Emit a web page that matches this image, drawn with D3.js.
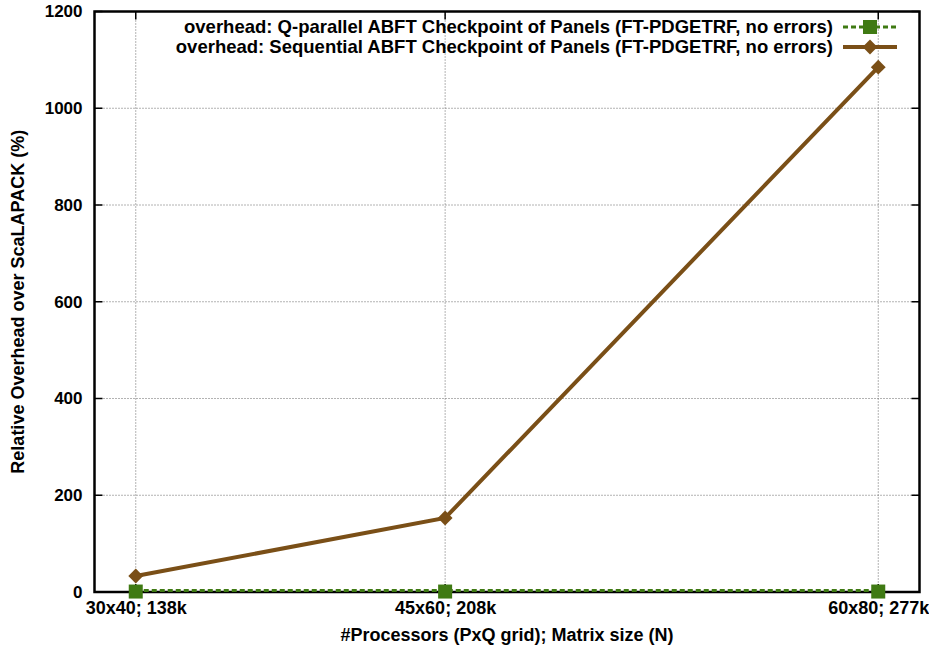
<!DOCTYPE html>
<html><head><meta charset="utf-8">
<script src="https://cdn.jsdelivr.net/npm/d3@7"></script>
<style>
body{margin:0;background:#fff;}
text{font-family:"Liberation Sans",Arial,sans-serif;font-weight:bold;}
</style></head>
<body><svg id="c" width="929" height="652"></svg>
<script>
const procs = [1200, 2700, 4800];
const tickLabels = ["30x40; 138k", "45x60; 208k", "60x80; 277k"];
const qParallel = [3, 3, 3];
const sequential = [33, 153, 1085];
const yTicks = [0, 200, 400, 600, 800, 1000, 1200];
const seriesNames = [
  "overhead: Q-parallel ABFT Checkpoint of Panels (FT-PDGETRF, no errors)",
  "overhead: Sequential ABFT Checkpoint of Panels (FT-PDGETRF, no errors)"
];

const svg = d3.select("#c");
const L = 94.5, R = 919.5, T = 11.5, B = 592;
const x = d3.scaleLinear().domain([1000, 5000]).range([L, R]);
const y = d3.scaleLinear().domain([0, 1200]).range([B, T]);

// grid
const g = svg.append("g");
g.selectAll(".gx").data(procs).enter().append("line")
  .attr("x1", d => x(d)).attr("x2", d => x(d)).attr("y1", T).attr("y2", B)
  .attr("stroke", "#666").attr("stroke-width", 1).attr("stroke-dasharray", "1,2");
g.selectAll(".gy").data(yTicks.slice(1, -1)).enter().append("line")
  .attr("x1", L).attr("x2", R).attr("y1", d => y(d)).attr("y2", d => y(d))
  .attr("stroke", "#666").attr("stroke-width", 1).attr("stroke-dasharray", "1,2");

// axes
const fs = "18px";
const ax = svg.append("g").attr("transform", `translate(0,${B})`)
  .call(d3.axisBottom(x).tickValues(procs).tickFormat((d, i) => tickLabels[i]).tickSize(0).tickPadding(9));
ax.select(".domain").remove();
ax.selectAll("text").attr("font-size", fs).attr("fill", "#000");
const ay = svg.append("g").attr("transform", `translate(${L},0)`)
  .call(d3.axisLeft(y).tickValues(yTicks).tickFormat(d3.format("d")).tickSize(0).tickPadding(12));
ay.select(".domain").remove();
ay.selectAll("text").attr("font-size", "17px").attr("fill", "#000");

// tick marks inward on all sides
yTicks.forEach(v => {
  svg.append("line").attr("x1", L).attr("x2", L + 8).attr("y1", y(v)).attr("y2", y(v)).attr("stroke", "#000").attr("stroke-width", 1.5);
  svg.append("line").attr("x1", R - 8).attr("x2", R).attr("y1", y(v)).attr("y2", y(v)).attr("stroke", "#000").attr("stroke-width", 1.5);
});
procs.forEach(v => {
  svg.append("line").attr("x1", x(v)).attr("x2", x(v)).attr("y1", B).attr("y2", B - 8).attr("stroke", "#000").attr("stroke-width", 1.5);
  svg.append("line").attr("x1", x(v)).attr("x2", x(v)).attr("y1", T).attr("y2", T + 8).attr("stroke", "#000").attr("stroke-width", 1.5);
});

// frame
svg.append("rect").attr("x", L).attr("y", T).attr("width", R - L).attr("height", B - T)
  .attr("fill", "none").attr("stroke", "#000").attr("stroke-width", 2.5);

const green = "#3f7a13", brown = "#7a4f17";
const line = d3.line().x((d, i) => x(procs[i])).y(d => y(d));

// sequential
svg.append("path").datum(sequential).attr("d", line).attr("fill", "none")
  .attr("stroke", brown).attr("stroke-width", 4);
svg.selectAll(".dm").data(sequential).enter().append("path")
  .attr("d", d3.symbol().type(d3.symbolSquare).size(110))
  .attr("transform", (d, i) => `translate(${x(procs[i])},${y(d)}) rotate(45)`)
  .attr("fill", brown);

// q-parallel
svg.append("path").datum(qParallel).attr("d", line).attr("fill", "none")
  .attr("stroke", green).attr("stroke-width", 3).attr("stroke-dasharray", "5,3");
svg.selectAll(".sq").data(qParallel).enter().append("rect")
  .attr("x", (d, i) => x(procs[i]) - 7).attr("y", d => y(d) - 6)
  .attr("width", 14).attr("height", 14).attr("fill", green);

// legend
const lx = 833, ly = [27, 47];
seriesNames.forEach((s, i) => {
  svg.append("text").attr("x", lx).attr("y", ly[i]).attr("dy", "0.35em")
    .attr("text-anchor", "end").attr("font-size", "18.5px").text(s);
});
svg.append("line").attr("x1", 843).attr("x2", 897).attr("y1", ly[0]).attr("y2", ly[0])
  .attr("stroke", green).attr("stroke-width", 3).attr("stroke-dasharray", "5,3");
svg.append("rect").attr("x", 870 - 7).attr("y", ly[0] - 7).attr("width", 14).attr("height", 14).attr("fill", green);
svg.append("line").attr("x1", 843).attr("x2", 897).attr("y1", ly[1]).attr("y2", ly[1])
  .attr("stroke", brown).attr("stroke-width", 4);
svg.append("path").attr("d", d3.symbol().type(d3.symbolSquare).size(110))
  .attr("transform", `translate(870,${ly[1]}) rotate(45)`).attr("fill", brown);

// axis titles
svg.append("text").attr("x", 507).attr("y", 641).attr("text-anchor", "middle")
  .attr("font-size", "18px").text("#Processors (PxQ grid); Matrix size (N)");
svg.append("text").attr("transform", `translate(24,${(T + B) / 2}) rotate(-90)`)
  .attr("text-anchor", "middle").attr("font-size", "18px").text("Relative Overhead over ScaLAPACK (%)");
</script></body></html>
